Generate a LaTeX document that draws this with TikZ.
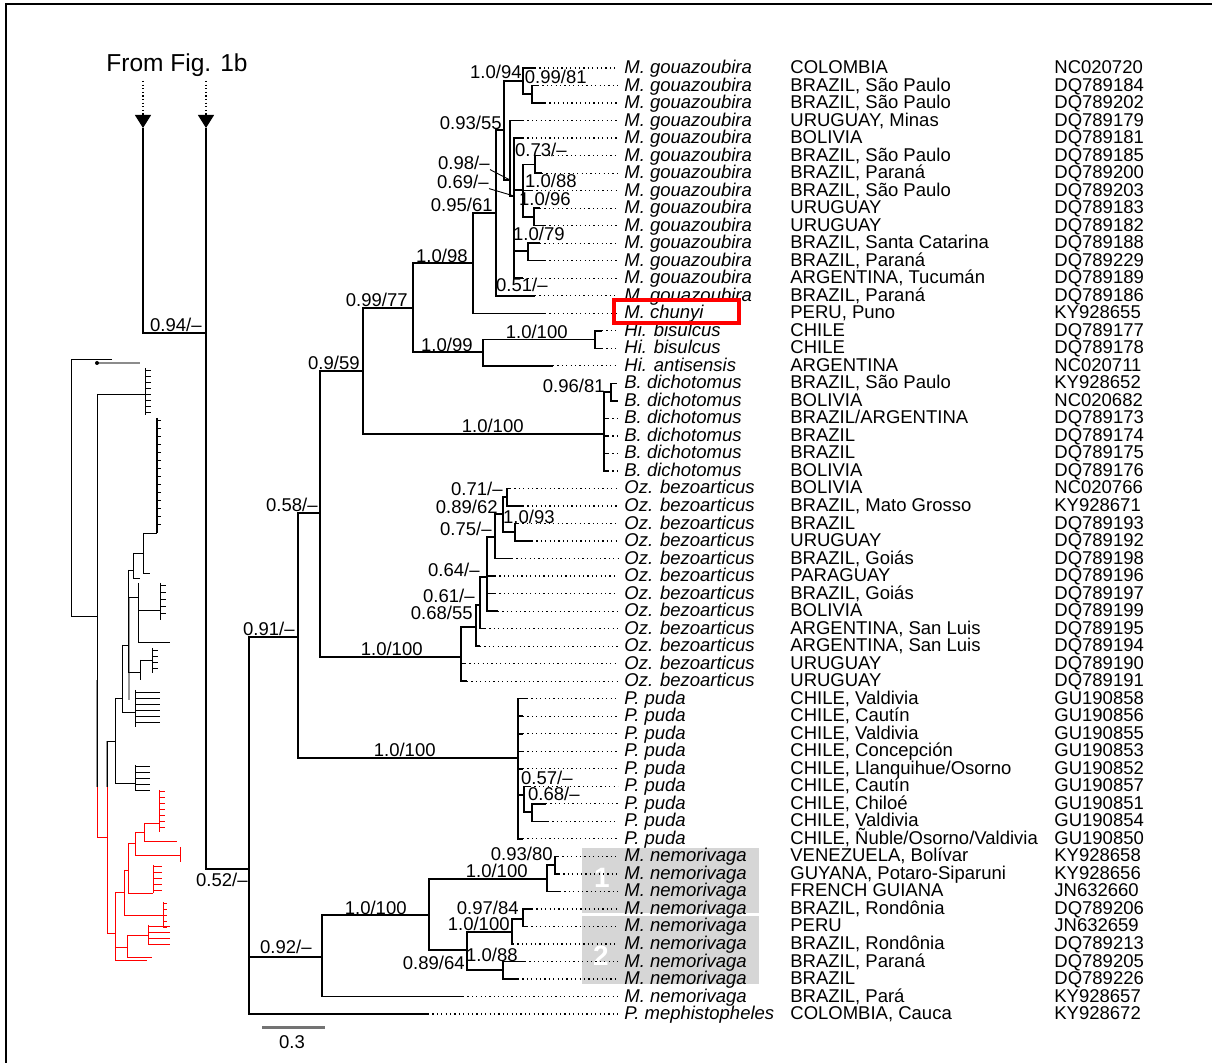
\documentclass[tikz,border=0pt]{standalone}
\usepackage{fontspec}
\setmainfont{Liberation Sans}
\usetikzlibrary{arrows.meta}

\newcommand{\lblfont}{\fontsize{9.25}{9.25}\selectfont}
% one row: tip end, dotted leader, species, locality, accession
\newcommand{\taxon}[5]{%
  \coordinate (t#1) at (#2,{68+(#1-1)*17.52});
  \node[taxname] (s#1) at (618,{73.5+(#1-1)*17.52}) {\textit{#3}};
  \node[taxname] (c#1) at (784,{73.5+(#1-1)*17.52}) {#4};
  \node[taxname] (g#1) at (1048,{73.5+(#1-1)*17.52}) {#5};
  \draw[leader] (t#1) -- (s#1.west |- t#1);
}

\begin{document}
\begin{tikzpicture}[x=0.5pt,y=-0.5pt,
  branch/.style={line width=0.75pt},
  leader/.style={line width=0.6pt, dash pattern=on 0.6pt off 1.6pt},
  taxname/.style={font=\lblfont, anchor=base west, inner xsep=3pt, inner ysep=0pt},
  bs/.style={font=\lblfont, anchor=base east, inner sep=0pt},
  thumb/.style={line width=0.45pt},
  thumbred/.style={line width=0.45pt, red},
  thumbgray/.style={line width=1.1pt, black!40},
  grpbox/.style={fill=black!16},
  grpnum/.style={font=\fontsize{14}{14}\selectfont\bfseries, text=white, inner sep=0pt},
  fromfig/.style={line width=0.6pt, dash pattern=on 0.6pt off 1.2pt, -{Triangle[width=8pt,length=6.5pt]}}]
\useasboundingbox (0,0) rectangle (1212,1063);
\draw[line width=0.9pt] (6,1075) -- (6,4) -- (1220,4);

% groups 1 and 2 of M. nemorivaga
\fill[grpbox] (582,848) rectangle (759,913);
\fill[grpbox] (582,916) rectangle (759,984);
\node[grpnum] (grp1) at (602,878) {1};
\node[grpnum] (grp2) at (601,956) {2};

% rows
\taxon{1}{535}{M. gouazoubira}{COLOMBIA}{NC020720}
\taxon{2}{538}{M. gouazoubira}{BRAZIL, São Paulo}{DQ789184}
\taxon{3}{545}{M. gouazoubira}{BRAZIL, São Paulo}{DQ789202}
\taxon{4}{523}{M. gouazoubira}{URUGUAY, Minas}{DQ789179}
\taxon{5}{523}{M. gouazoubira}{BOLIVIA}{DQ789181}
\taxon{6}{540}{M. gouazoubira}{BRAZIL, São Paulo}{DQ789185}
\taxon{7}{542}{M. gouazoubira}{BRAZIL, Paraná}{DQ789200}
\taxon{8}{532}{M. gouazoubira}{BRAZIL, São Paulo}{DQ789203}
\taxon{9}{540}{M. gouazoubira}{URUGUAY}{DQ789183}
\taxon{10}{545}{M. gouazoubira}{URUGUAY}{DQ789182}
\taxon{11}{540}{M. gouazoubira}{BRAZIL, Santa Catarina}{DQ789188}
\taxon{12}{545}{M. gouazoubira}{BRAZIL, Paraná}{DQ789229}
\taxon{13}{523}{M. gouazoubira}{ARGENTINA, Tucumán}{DQ789189}
\taxon{14}{535}{M. gouazoubira}{BRAZIL, Paraná}{DQ789186}
\taxon{15}{545}{M. chunyi}{PERU, Puno}{KY928655}
\taxon{16}{602}{Hi. bisulcus}{CHILE}{DQ789177}
\taxon{17}{602}{Hi. bisulcus}{CHILE}{DQ789178}
\taxon{18}{553}{Hi. antisensis}{ARGENTINA}{NC020711}
\taxon{19}{616}{B. dichotomus}{BRAZIL, São Paulo}{KY928652}
\taxon{20}{618}{B. dichotomus}{BOLIVIA}{NC020682}
\taxon{21}{608}{B. dichotomus}{BRAZIL/ARGENTINA}{DQ789173}
\taxon{22}{608}{B. dichotomus}{BRAZIL}{DQ789174}
\taxon{23}{608}{B. dichotomus}{BRAZIL}{DQ789175}
\taxon{24}{608}{B. dichotomus}{BOLIVIA}{DQ789176}
\taxon{25}{510}{Oz. bezoarticus}{BOLIVIA}{NC020766}
\taxon{26}{523}{Oz. bezoarticus}{BRAZIL, Mato Grosso}{KY928671}
\taxon{27}{518}{Oz. bezoarticus}{BRAZIL}{DQ789193}
\taxon{28}{532}{Oz. bezoarticus}{URUGUAY}{DQ789192}
\taxon{29}{512}{Oz. bezoarticus}{BRAZIL, Goiás}{DQ789198}
\taxon{30}{495}{Oz. bezoarticus}{PARAGUAY}{DQ789196}
\taxon{31}{495}{Oz. bezoarticus}{BRAZIL, Goiás}{DQ789197}
\taxon{32}{498}{Oz. bezoarticus}{BOLIVIA}{DQ789199}
\taxon{33}{485}{Oz. bezoarticus}{ARGENTINA, San Luis}{DQ789195}
\taxon{34}{480}{Oz. bezoarticus}{ARGENTINA, San Luis}{DQ789194}
\taxon{35}{465}{Oz. bezoarticus}{URUGUAY}{DQ789190}
\taxon{36}{467}{Oz. bezoarticus}{URUGUAY}{DQ789191}
\taxon{37}{527}{P. puda}{CHILE, Valdivia}{GU190858}
\taxon{38}{523}{P. puda}{CHILE, Cautín}{GU190856}
\taxon{39}{523}{P. puda}{CHILE, Valdivia}{GU190855}
\taxon{40}{523}{P. puda}{CHILE, Concepción}{GU190853}
\taxon{41}{523}{P. puda}{CHILE, Llanquihue/Osorno}{GU190852}
\taxon{42}{530}{P. puda}{CHILE, Cautín}{GU190857}
\taxon{43}{546}{P. puda}{CHILE, Chiloé}{GU190851}
\taxon{44}{548}{P. puda}{CHILE, Valdivia}{GU190854}
\taxon{45}{523}{P. puda}{CHILE, Ñuble/Osorno/Valdivia}{GU190850}
\taxon{46}{558}{M. nemorivaga}{VENEZUELA, Bolívar}{KY928658}
\taxon{47}{559}{M. nemorivaga}{GUYANA, Potaro-Siparuni}{KY928656}
\taxon{48}{560}{M. nemorivaga}{FRENCH GUIANA}{JN632660}
\taxon{49}{532}{M. nemorivaga}{BRAZIL, Rondônia}{DQ789206}
\taxon{50}{527}{M. nemorivaga}{PERU}{JN632659}
\taxon{51}{513}{M. nemorivaga}{BRAZIL, Rondônia}{DQ789213}
\taxon{52}{525}{M. nemorivaga}{BRAZIL, Paraná}{DQ789205}
\taxon{53}{518}{M. nemorivaga}{BRAZIL}{DQ789226}
\taxon{54}{463}{M. nemorivaga}{BRAZIL, Pará}{KY928657}
\taxon{55}{428}{P. mephistopheles}{COLOMBIA, Cauca}{KY928672}

\draw[red, line width=1.7pt] (614,300) rectangle (739,323);

% internal nodes
\coordinate (a1) at (143,128);
\coordinate (a2) at (206,128);
\coordinate (n094) at (206,333);
\coordinate (root) at (249,869);
\coordinate (n091) at (298,637);
\coordinate (n058) at (320,513);
\coordinate (n059) at (363,371);
\coordinate (n077) at (413,308);
\coordinate (nHi) at (483,352);
\coordinate (nHb) at (595,339.6);
\coordinate (n098) at (473,263);
\coordinate (n095) at (496,213);
\coordinate (n093) at (504,130);
\coordinate (n094b) at (523,81);
\coordinate (n081) at (532,94);
\coordinate (nG) at (510,180);
\coordinate (nH) at (514,196);
\coordinate (nJ) at (523,190);
\coordinate (n073) at (535,164.3);
\coordinate (n096) at (534,217);
\coordinate (n079) at (528,251);
\coordinate (nB) at (604,434);
\coordinate (n0961) at (611,392);
\coordinate (nOz) at (461,657);
\coordinate (n068) at (476,627);
\coordinate (n061) at (480,605);
\coordinate (n064) at (487,577);
\coordinate (n075) at (495,537);
\coordinate (n089) at (503,514);
\coordinate (n071) at (507,497);
\coordinate (n093b) at (515,532);
\coordinate (nPu) at (518,758);
\coordinate (n057) at (524,795);
\coordinate (n068b) at (532,812);
\coordinate (n092) at (322,957);
\coordinate (nNa) at (429,915);
\coordinate (nN1) at (547,879);
\coordinate (nN93) at (555,865);
\coordinate (nN89) at (467,950);
\coordinate (nN100) at (512,932);
\coordinate (nN97) at (523,919);
\coordinate (nN88) at (503,970);

% branches
\draw[branch] (a1) |- (n094);
\draw[branch] (a2) |- (root);
\draw[branch] (root) |- (n091) (root) |- (n092) (root) |- (t55);
\draw[branch] (n091) |- (n058) (n091) |- (nPu);
\draw[branch] (n058) |- (n059) (n058) |- (nOz);
\draw[branch] (n059) |- (n077) (n059) |- (nB);
\draw[branch] (n077) |- (n098) (n077) |- (nHi);
\draw[branch] (nHi) |- (nHb) (nHi) |- (t18);
\draw[branch] (nHb) |- (t16) (nHb) |- (t17);
\draw[branch] (n098) |- (n095) (n098) |- (t15);
\draw[branch] (n095) |- (n093) (n095) |- (t14);
\draw[branch] (n093) |- (n094b) (n093) |- (nG);
\draw[branch] (n094b) |- (t1) (n094b) |- (n081);
\draw[branch] (n081) |- (t2) (n081) |- (t3);
\draw[branch] (nG) |- (t4) (nG) |- (nH);
\draw[branch] (nH) |- (t5) (nH) |- (nJ) (nH) |- (n079) (nH) |- (t13);
\draw[branch] (nJ) |- (n073) (nJ) |- (t8) (nJ) |- (n096);
\draw[branch] (n073) |- (t6) (n073) |- (t7);
\draw[branch] (n096) |- (t9) (n096) |- (t10);
\draw[branch] (n079) |- (t11) (n079) |- (t12);
\draw[branch] (nB) |- (n0961) (nB) |- (t21) (nB) |- (t22) (nB) |- (t23) (nB) |- (t24);
\draw[branch] (n0961) |- (t19) (n0961) |- (t20);
\draw[branch] (nOz) |- (n068) (nOz) |- (t35) (nOz) |- (t36);
\draw[branch] (n068) |- (n061) (n068) |- (t34);
\draw[branch] (n061) |- (n064) (n061) |- (t33);
\draw[branch] (n064) |- (n075) (n064) |- (t30) (n064) |- (t31) (n064) |- (t32);
\draw[branch] (n075) |- (n089) (n075) |- (t29);
\draw[branch] (n089) |- (n071) (n089) |- (n093b);
\draw[branch] (n071) |- (t25) (n071) |- (t26);
\draw[branch] (n093b) |- (t27) (n093b) |- (t28);
\draw[branch] (nPu) |- (t37) (nPu) |- (t38) (nPu) |- (t39) (nPu) |- (t40) (nPu) |- (t41) (nPu) |- (n057) (nPu) |- (t45);
\draw[branch] (n057) |- (t42) (n057) |- (n068b);
\draw[branch] (n068b) |- (t43) (n068b) |- (t44);
\draw[branch] (n092) |- (nNa) (n092) |- (t54);
\draw[branch] (nNa) |- (nN1) (nNa) |- (nN89);
\draw[branch] (nN1) |- (nN93) (nN1) |- (t48);
\draw[branch] (nN93) |- (t46) (nN93) |- (t47);
\draw[branch] (nN89) |- (nN100) (nN89) |- (nN88);
\draw[branch] (nN100) |- (nN97) (nN100) |- (t51);
\draw[branch] (nN97) |- (t49) (nN97) |- (t50);
\draw[branch] (nN88) |- (t52) (nN88) |- (t53);

% support values
\node[bs] (l094b) at (522,78.6) {1.0/94};
\node[bs] (l081) at (587,83.6) {0.99/81};
\node[bs] (l093) at (502,129.6) {0.93/55};
\node[bs] (l073) at (567,156.6) {0.73/--};
\node[bs] (lG) at (490,169.6) {0.98/--};
\node[bs] (l088) at (577,187.6) {1.0/88};
\node[bs] (lH) at (489,188.6) {0.69/--};
\node[bs] (l096) at (571,205.6) {1.0/96};
\node[bs] (l095) at (493,211.6) {0.95/61};
\node[bs] (l079) at (565,240.6) {1.0/79};
\node[bs] (l098) at (468,262.6) {1.0/98};
\node[bs] (l051) at (548,291.6) {0.51/--};
\node[bs] (l077) at (408,306.6) {0.99/77};
\node[bs] (lHb) at (568,338.6) {1.0/100};
\node[bs] (l099) at (473,351.6) {1.0/99};
\node[bs] (l059) at (360,369.6) {0.9/59};
\node[bs] (l0961) at (605,392.6) {0.96/81};
\node[bs] (lB) at (524,432.6) {1.0/100};
\node[bs] (l071) at (503,495.6) {0.71/--};
\node[bs] (l058) at (318,511.6) {0.58/--};
\node[bs] (l089) at (498,513.6) {0.89/62};
\node[bs] (l093b) at (555,523.6) {1.0/93};
\node[bs] (l075) at (492,535.6) {0.75/--};
\node[bs] (l064) at (480,576.6) {0.64/--};
\node[bs] (l061) at (475,602.6) {0.61/--};
\node[bs] (l068) at (473,619.6) {0.68/55};
\node[bs] (l091) at (295,635.6) {0.91/--};
\node[bs] (lOz) at (423,655.6) {1.0/100};
\node[bs] (lPu) at (436,756.6) {1.0/100};
\node[bs] (l057) at (573,784.6) {0.57/--};
\node[bs] (l068b) at (580,800.6) {0.68/--};
\node[bs] (lN93) at (553,860.6) {0.93/80};
\node[bs] (lN1) at (528,877.6) {1.0/100};
\node[bs] (l052) at (248,886.6) {0.52/--};
\node[bs] (lNa) at (407,914.6) {1.0/100};
\node[bs] (lN97) at (519,914.6) {0.97/84};
\node[bs] (lN100) at (510,930.6) {1.0/100};
\node[bs] (l092) at (312,953.6) {0.92/--};
\node[bs] (lN88) at (518,961.6) {1.0/88};
\node[bs] (lN89) at (465,969.6) {0.89/64};
\node[bs] (l094) at (202,331.6) {0.94/--};
\draw[thumb] (lG.base east) -- (nG);
\draw[thumb] (lH.base east) -- (nH);

% from Fig. 1b
\node[font=\fontsize{12.25}{12.25}\selectfont, anchor=base] (fig) at (177,72) {From Fig. 1b};
\coordinate (f1) at (143,81);
\coordinate (f2) at (206,81);
\draw[fromfig] (f1) -- (a1);
\draw[fromfig] (f2) -- (a2);

% scale bar
\coordinate (sb0) at (262,1028);
\coordinate (sb1) at (325,1028);
\draw[line width=1.5pt, black!55] (sb0) -- (sb1);
\node[font=\lblfont, anchor=base] (sbl) at (292,1048.6) {0.3};

% thumbnail of Fig. 1b
\draw[thumbgray] (97,680) -- (97,787);
\draw[thumbgray] (107,741) -- (107,787);
\draw[thumbgray] (129,597) -- (129,700);
\draw[thumb] (112,359) -- (71,359) -- (71,616) -- (97,616);
\draw[line width=1.2pt, black!45] (97,363) -- (140,363);
\fill (97,363) circle (2);
\draw[thumb] (97,394) -- (97,787);
\draw[thumb] (97,394) -- (145,394);
\draw[thumb] (145,368) -- (145,415);
\foreach \y in {370,376,...,412} \draw[thumb] (145,\y) -- (151,\y);
\draw[line width=1pt] (157,418) -- (157,533);
\foreach \y in {420,428,...,530} \draw[thumb] (157,\y) -- (161,\y);
\draw[thumb] (143,533) -- (157,533);
\draw[thumb] (143,533) -- (143,573) -- (150,573);
\draw[thumb] (133,553) -- (143,553);
\draw[thumb] (133,553) -- (133,578) -- (140,578);
\draw[thumb] (128,570) -- (133,570);
\draw[thumb] (128,570) -- (128,672) -- (140,672);
\draw[thumb] (128,597) -- (138,597);
\draw[thumb] (138,583) -- (138,642) -- (170,642);
\draw[thumb] (138,610) -- (160,610);
\draw[thumb] (160,583) -- (160,620);
\foreach \y in {585,592,...,618} \draw[thumb] (160,\y) -- (166,\y);
\draw[thumb] (140,660) -- (140,680);
\draw[thumb] (140,660) -- (152,660);
\draw[thumb] (152,648) -- (152,673);
\foreach \y in {650,656,...,672} \draw[thumb] (152,\y) -- (158,\y);
\draw[thumb] (122,645) -- (128,645);
\draw[thumb] (122,645) -- (122,712) -- (135,712);
\draw[thumb] (135,690) -- (135,727);
\foreach \y in {692,698,...,726} \draw[thumb] (135,\y) -- (160,\y);
\draw[thumb] (115,698) -- (122,698);
\draw[thumb] (115,698) -- (115,783) -- (135,783);
\draw[thumb] (135,765) -- (135,790);
\foreach \y in {766,772,...,790} \draw[thumb] (135,\y) -- (150,\y);
\draw[thumb] (107,741) -- (115,741);
\draw[thumb] (107,741) -- (107,787);
% red part
\draw[thumbred] (97,787) -- (97,837) -- (107,837);
\draw[thumbred] (107,787) -- (107,933) -- (115,933);
\draw[thumbred] (115,892) -- (115,960) -- (147,960);
\draw[thumbred] (115,892) -- (124,892);
\draw[thumbred] (124,870) -- (124,915) -- (163,915);
\draw[thumbred] (163,902) -- (163,927);
\foreach \y in {903,909,...,927} \draw[thumbred] (163,\y) -- (167,\y);
\draw[thumbred] (124,870) -- (128,870);
\draw[thumbred] (128,843) -- (128,893) -- (153,893);
\draw[thumbred] (153,865) -- (153,893);
\foreach \y in {866,872,...,892} \draw[thumbred] (153,\y) -- (162,\y);
\draw[thumbred] (128,843) -- (135,843);
\draw[thumbred] (135,832) -- (135,855) -- (180,855);
\draw[thumbred] (180,847) -- (180,862);
\draw[thumbred] (135,832) -- (144,832);
\draw[thumbred] (144,823) -- (144,841) -- (177,841);
\draw[thumbred] (144,823) -- (159,823);
\draw[thumbred] (159,790) -- (159,832);
\foreach \y in {791,797,...,831} \draw[thumbred] (159,\y) -- (165,\y);
\draw[thumbred] (115,947) -- (127,947);
\draw[thumbred] (127,935) -- (127,957) -- (152,957);
\draw[thumbred] (127,935) -- (148,935);
\draw[thumbred] (148,925) -- (148,945);
\foreach \y in {926,932,...,944} \draw[thumbred] (148,\y) -- (170,\y);
\end{tikzpicture}
\end{document}
